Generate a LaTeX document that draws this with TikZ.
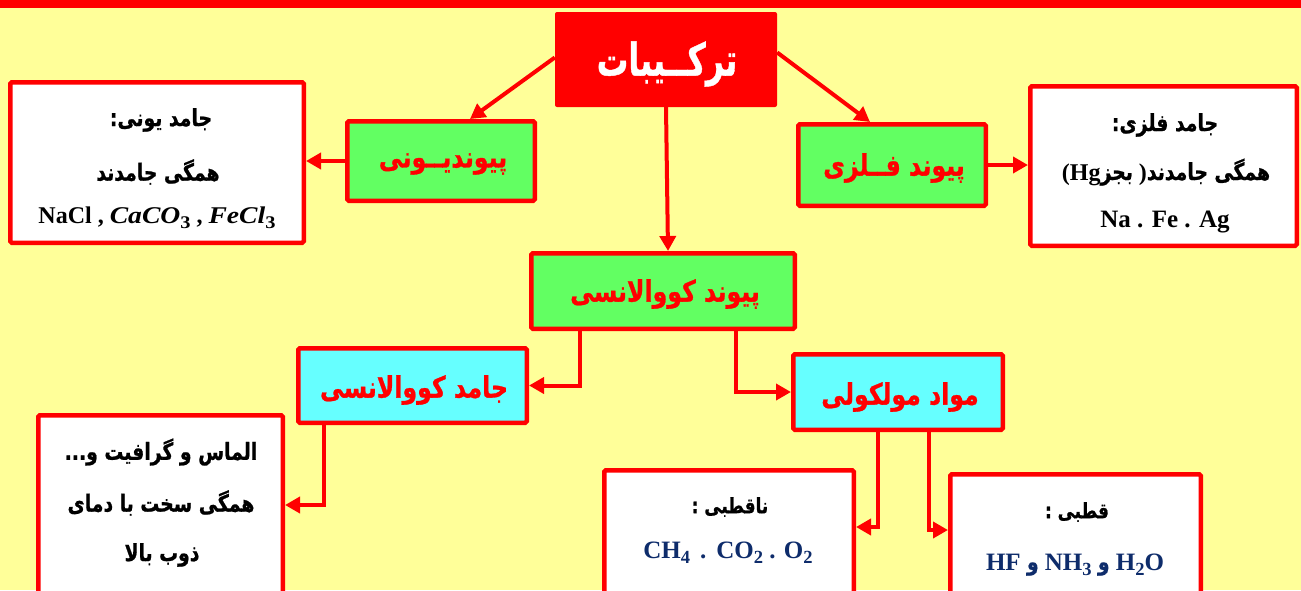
\documentclass[tikz,border=0pt]{standalone}
\usepackage{graphicx}
\usepackage{fontspec}
\setmainfont{Liberation Serif}
\newfontfamily\fa[Script=Arabic, BoldFeatures={FakeBold=1}]{DejaVu Sans}
\TeXXeTstate=1
\usetikzlibrary{arrows.meta,calc}

\definecolor{bgyellow}{HTML}{FFFF99}
\definecolor{mainred}{HTML}{FF0000}
\definecolor{bondgreen}{HTML}{62FF62}
\definecolor{solidcyan}{HTML}{66FFFF}
\definecolor{chemnavy}{HTML}{0E2C6B}

% Persian text, right to left, bold, set a little narrow
\newcommand\fatxt[2][0.8]{\scalebox{#1}[1]{\fa\bfseries\beginR #2\endR}}
% wide bold italic for formulas
\newcommand\itchem[1]{\scalebox{1.15}[1]{\bfseries\itshape #1}}
% subscript digit in formulas
\newcommand\csub[1]{\raisebox{-0.22em}{\scalebox{0.74}{\upshape #1}}}

\tikzset{
  framebox/.style={draw=mainred, line width=4.5pt, rounded corners=1.5pt, inner sep=0pt},
  bondbox/.style={framebox, fill=bondgreen},
  solidbox/.style={framebox, fill=solidcyan},
  notebox/.style={framebox, fill=white},
  titlebox/.style={fill=mainred, rounded corners=2pt, inner sep=0pt},
  titletxt/.style={inner sep=0pt, text=white, font=\fontsize{45}{50}\selectfont},
  bondtxt/.style={inner sep=0pt, text=mainred, font=\fontsize{29.5}{34}\selectfont},
  faline/.style={inner sep=0pt, font=\fontsize{23.5}{28}\selectfont},
  faline small/.style={inner sep=0pt, font=\fontsize{21}{25}\selectfont},
  chemline/.style={inner sep=0pt, anchor=base, font=\fontsize{24}{28}\selectfont\bfseries},
  navyline/.style={inner sep=0pt, anchor=base, text=chemnavy, font=\fontsize{25}{29}\selectfont\bfseries},
  arr/.style={draw=mainred, line width=4pt, -{Triangle[length=15pt,width=16pt]}},
}

\begin{document}
\begin{tikzpicture}[x=1pt, y=-1pt]
\useasboundingbox (0,0) rectangle (1301,590);
\fill[bgyellow] (0,0) rectangle (1301,590);
\fill[mainred] (0,0) rectangle (1301,7.5);
\clip (0,0) rectangle (1301,590);

% title and the three kinds of bond
\node[titlebox, minimum width=222pt, minimum height=95pt] (top) at (666,59.5) {};
\node[titletxt] (topT) at (667,64) {\fatxt[0.7]{ترکــیبات}};

\node[bondbox, minimum width=187.5pt, minimum height=79.5pt] (ionic) at (441,161) {};
\node[bondtxt] (ionicT) at (443,164) {\fatxt{پیوندیــونی}};

\node[bondbox, minimum width=187.5pt, minimum height=81.5pt] (metal) at (892,165) {};
\node[bondtxt] (metalT) at (894,168) {\fatxt{پیوند فــلزی}};

\node[bondbox, minimum width=263.5pt, minimum height=75.5pt] (cov) at (663,291) {};
\node[bondtxt] (covT) at (665,294) {\fatxt{پیوند کووالانسی}};

% covalent solids and molecular substances
\node[solidbox, minimum width=228.5pt, minimum height=74.5pt] (covsolid) at (412.5,385.5) {};
\node[bondtxt] (covsolidT) at (414,390) {\fatxt{جامد کووالانسی}};

\node[solidbox, minimum width=209.5pt, minimum height=75.5pt] (mol) at (898,392) {};
\node[bondtxt] (molT) at (900,397) {\fatxt{مواد مولکولی}};

% ionic solids
\node[notebox, minimum width=293.5pt, minimum height=160.5pt] (ionbox) at (157,162.5) {};
\node[faline] (ion1) at (161,120) {\fatxt{جامد یونی:}};
\node[faline] (ion2) at (158,172) {\fatxt{همگی جامدند}};
\node[chemline] (ion3) at (157,223) {NaCl , \itchem{CaCO\csub{3}} , \itchem{FeCl\csub{3}}};

% metallic solids
\node[notebox, minimum width=266.5pt, minimum height=159.5pt] (metbox) at (1163.5,166) {};
\node[faline] (met1) at (1165,125) {\fatxt{جامد فلزی:}};
\node[chemline] (met2) at (1166,180) {(Hg{\fontsize{23.5}{28}\selectfont\fatxt{بجز}} ){\fontsize{23.5}{28}\selectfont\fatxt{همگی جامدند}}};
\node[chemline, font=\fontsize{25}{29}\selectfont\bfseries] (met3) at (1165,227) {Na . Fe . Ag};

% covalent solids: examples
\node[notebox, minimum width=244.5pt, minimum height=182.5pt] (almas) at (160.5,506.5) {};
\node[faline] (alm1) at (161,452) {\fatxt{الماس و گرافیت و...}};
\node[faline] (alm2) at (161,503) {\fatxt{همگی سخت با دمای}};
\node[faline] (alm3) at (162,555) {\fatxt{ذوب بالا}};

% non-polar and polar molecules
\node[notebox, minimum width=249.5pt, minimum height=127.5pt] (nonpolar) at (729,534) {};
\node[faline small] (np1) at (730,507) {\fatxt{ناقطبی :}};
\node[navyline] (np2) at (728,558) {CH\csub{4}\hspace{10pt}.\hspace{10pt}CO\csub{2} . O\csub{2}};

\node[notebox, minimum width=250.5pt, minimum height=123.5pt] (polar) at (1075.5,536) {};
\node[faline small] (p1) at (1077,512) {\fatxt{قطبی :}};
\node[navyline] (p2) at (1075,570) {HF {\fontsize{23.5}{28}\selectfont\fatxt{و}} NH\csub{3} {\fontsize{23.5}{28}\selectfont\fatxt{و}} H\csub{2}O};

% connectors
\draw[arr] ([yshift=2pt]top.west) -- ([xshift=29pt]ionic.north);
\draw[arr] ([yshift=7pt]top.east) -- ([xshift=-22pt]metal.north);
\draw[arr] (top.south) -- ([xshift=5pt]cov.north);
\draw[arr] (ionic.west) -- (ionic.west -| ionbox.east);
\draw[arr] (metal.east) -- (metal.east -| metbox.west);
\draw[arr] ([xshift=-83pt]cov.south) |- (covsolid.east);
\draw[arr] ([xshift=73pt]cov.south) |- (mol.west);
\draw[arr] ([xshift=-88.5pt]covsolid.south) |- ([yshift=1.5pt]almas.east);
\draw[arr] ([xshift=-20.5pt]mol.south) |- ([yshift=7pt]nonpolar.east);
\draw[arr] ([xshift=30.5pt]mol.south) |- ([yshift=6pt]polar.west);
\end{tikzpicture}
\end{document}
